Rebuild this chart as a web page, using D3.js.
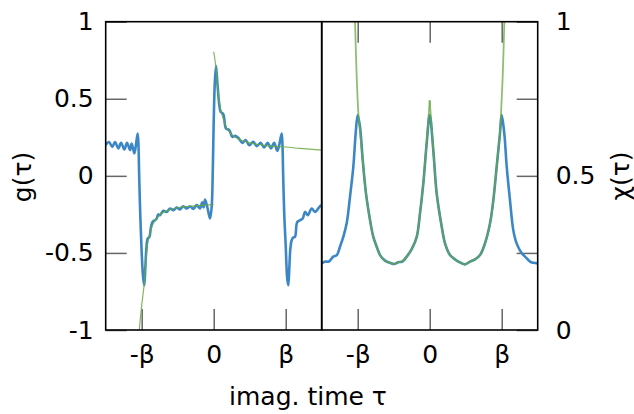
<!DOCTYPE html>
<html>
<head>
<meta charset="utf-8">
<script src="https://cdn.jsdelivr.net/npm/d3@7"></script>
<style>
  body { margin: 0; background: #fff; }
  text { font-family: "DejaVu Sans", sans-serif; }
</style>
</head>
<body>
<div id="chart"></div>
<script>
// Canvas and panel geometry
const width = 634;
const height = 414;
const plotTop = 21.7, plotBottom = 330;
const leftPanel = { x0: 105.7, x1: 321.7 };
const rightPanel = { x0: 321.7, x1: 537.7 };

// Tick values and labels (tau in units of beta)
const tauTicks = [-1, 0, 1];
const tauLabels = ["-β", "0", "β"];
const gTicks = [-1, -0.5, 0, 0.5, 1];
const chiTicks = [0, 0.25, 0.5, 0.75, 1];
const chiLabelTicks = [0, 0.5, 1];

// g(tau), measured (blue)
const gData = [
  [-1.5, 0.20], [-1.486, 0.21], [-1.454, 0.22], [-1.408, 0.188], [-1.371, 0.22], [-1.325, 0.178],
  [-1.287, 0.215], [-1.241, 0.171], [-1.204, 0.215], [-1.162, 0.167], [-1.139, 0.21], [-1.103, 0.145],
  [-1.08, 0.2], [-1.056, 0.275], [-1.045, 0.2], [-1.035, 0.0], [-1.02, -0.25], [-1.0, -0.5],
  [-0.98, -0.66], [-0.964, -0.71], [-0.95, -0.6], [-0.935, -0.47], [-0.917, -0.407], [-0.895, -0.398],
  [-0.87, -0.33], [-0.845, -0.295], [-0.815, -0.288], [-0.792, -0.277], [-0.77, -0.25], [-0.746, -0.255],
  [-0.7, -0.227], [-0.653, -0.234], [-0.607, -0.212], [-0.56, -0.223], [-0.514, -0.205], [-0.468, -0.218],
  [-0.422, -0.197], [-0.375, -0.212], [-0.329, -0.197], [-0.283, -0.214], [-0.236, -0.19], [-0.19, -0.212],
  [-0.16, -0.172], [-0.14, -0.205], [-0.12, -0.153], [-0.085, -0.21], [-0.051, -0.277], [-0.028, -0.2],
  [-0.012, 0.05], [0.0, 0.35], [0.015, 0.6], [0.032, 0.712], [0.045, 0.64], [0.06, 0.55],
  [0.078, 0.46], [0.097, 0.415], [0.133, 0.40], [0.171, 0.307], [0.217, 0.297], [0.259, 0.253],
  [0.3, 0.26], [0.342, 0.247], [0.398, 0.214], [0.444, 0.232], [0.495, 0.199], [0.55, 0.221],
  [0.597, 0.193], [0.653, 0.214], [0.699, 0.184], [0.75, 0.214], [0.796, 0.178], [0.838, 0.214],
  [0.884, 0.162], [0.91, 0.2], [0.944, 0.275], [0.955, 0.2], [0.965, 0.0], [0.98, -0.25],
  [1.0, -0.45], [1.02, -0.66], [1.036, -0.71], [1.05, -0.6], [1.065, -0.47], [1.083, -0.418],
  [1.105, -0.4], [1.129, -0.396], [1.16, -0.3], [1.199, -0.288], [1.236, -0.277], [1.268, -0.234],
  [1.306, -0.255], [1.361, -0.212], [1.407, -0.234], [1.476, -0.197], [1.5, -0.19]
];

// g(tau), fit (green), two branches
const gFitNeg = [
  [-1.045, -1.1], [-1.033, -1.0], [-1.0, -0.84], [-0.967, -0.71], [-0.94, -0.55], [-0.917, -0.44],
  [-0.885, -0.37], [-0.85, -0.32], [-0.815, -0.29], [-0.75, -0.255], [-0.7, -0.237], [-0.6, -0.218],
  [-0.5, -0.207], [-0.4, -0.2], [-0.3, -0.196], [-0.2, -0.192], [-0.1, -0.189], [0, -0.186]
];
const gFitPos = [
  [0, 0.805], [0.032, 0.70], [0.06, 0.55], [0.078, 0.48], [0.097, 0.43], [0.133, 0.37],
  [0.171, 0.32], [0.217, 0.285], [0.3, 0.25], [0.4, 0.228], [0.5, 0.214], [0.6, 0.205],
  [0.7, 0.198], [0.8, 0.193], [1.0, 0.187], [1.2, 0.178], [1.5, 0.167]
];

// chi(tau), measured (blue)
const chiData = [
  [-1.5, 0.216], [-1.45, 0.222], [-1.4, 0.222], [-1.34, 0.238], [-1.29, 0.243], [-1.246, 0.27],
  [-1.2, 0.302], [-1.153, 0.346], [-1.107, 0.432], [-1.061, 0.529], [-1.028, 0.638], [-1.0, 0.697],
  [-0.968, 0.659], [-0.93, 0.551], [-0.885, 0.443], [-0.829, 0.357], [-0.783, 0.302], [-0.736, 0.27],
  [-0.69, 0.243], [-0.621, 0.225], [-0.551, 0.218], [-0.496, 0.214], [-0.436, 0.22], [-0.38, 0.222],
  [-0.319, 0.238], [-0.25, 0.262], [-0.18, 0.302], [-0.135, 0.378], [-0.089, 0.475], [-0.042, 0.605],
  [0, 0.697], [0.05, 0.583], [0.097, 0.443], [0.167, 0.335], [0.213, 0.281], [0.282, 0.243],
  [0.351, 0.229], [0.397, 0.222], [0.49, 0.213], [0.56, 0.222], [0.63, 0.229], [0.699, 0.243],
  [0.768, 0.281], [0.838, 0.346], [0.884, 0.421], [0.93, 0.529], [0.976, 0.638], [1.0, 0.697],
  [1.036, 0.638], [1.07, 0.529], [1.115, 0.421], [1.161, 0.324], [1.207, 0.281], [1.278, 0.249],
  [1.324, 0.238], [1.393, 0.222], [1.44, 0.218], [1.5, 0.216]
];

// chi(tau), fit (green), two branches
const chiFitNeg = [
  [-1.045, 1.06], [-1.037, 1.0], [-1.015, 0.83], [-0.99, 0.70], [-0.968, 0.645], [-0.93, 0.55],
  [-0.885, 0.443], [-0.829, 0.357], [-0.783, 0.302], [-0.736, 0.27], [-0.69, 0.243], [-0.621, 0.225],
  [-0.551, 0.218], [-0.496, 0.214], [-0.436, 0.22], [-0.38, 0.224], [-0.319, 0.238], [-0.25, 0.262],
  [-0.18, 0.302], [-0.135, 0.378], [-0.089, 0.475], [-0.042, 0.61], [0, 0.745]
];
const chiFitPos = [
  [0, 0.745], [0.042, 0.61], [0.097, 0.443], [0.167, 0.335], [0.213, 0.281], [0.282, 0.243],
  [0.351, 0.229], [0.397, 0.222], [0.49, 0.213], [0.56, 0.222], [0.63, 0.229], [0.699, 0.243],
  [0.768, 0.281], [0.838, 0.346], [0.884, 0.421], [0.93, 0.529], [0.976, 0.638], [0.99, 0.70],
  [1.015, 0.83], [1.037, 1.0], [1.045, 1.06]
];

const blue = "#3b87c6";
const green = "#68a840";
const fontSize = 25;

// Scales
const xL = d3.scaleLinear().domain([-1.5, 1.5]).range([leftPanel.x0, leftPanel.x1]);
const xR = d3.scaleLinear().domain([-1.5, 1.5]).range([rightPanel.x0, rightPanel.x1]);
const yL = d3.scaleLinear().domain([-1, 1]).range([plotBottom, plotTop]);
const yR = d3.scaleLinear().domain([0, 1]).range([plotBottom, plotTop]);

const svg = d3.select("#chart")
  .append("svg")
  .attr("width", width)
  .attr("height", height);

// Clip paths
const defs = svg.append("defs");
defs.append("clipPath").attr("id", "clipL")
  .append("rect")
  .attr("x", leftPanel.x0).attr("y", plotTop)
  .attr("width", leftPanel.x1 - leftPanel.x0).attr("height", plotBottom - plotTop);
defs.append("clipPath").attr("id", "clipR")
  .append("rect")
  .attr("x", rightPanel.x0).attr("y", plotTop)
  .attr("width", rightPanel.x1 - rightPanel.x0).attr("height", plotBottom - plotTop);

const lineL = d3.line().x(d => xL(d[0])).y(d => yL(d[1])).curve(d3.curveCatmullRom.alpha(0.5));
const lineR = d3.line().x(d => xR(d[0])).y(d => yR(d[1])).curve(d3.curveCatmullRom.alpha(0.5));

function styleAxis(g) {
  g.select(".domain").remove();
  g.selectAll(".tick line").attr("stroke", "#666").attr("stroke-width", 1.5);
  g.selectAll(".tick text")
    .attr("fill", "#000")
    .style("font-size", fontSize + "px")
    .style("font-family", "DejaVu Sans");
}

// Left panel axes
svg.append("g")
  .attr("transform", `translate(${leftPanel.x0},0)`)
  .call(d3.axisLeft(yL).tickValues(gTicks).tickSize(-21).tickPadding(12)
    .tickFormat(d => String(d)))
  .call(styleAxis);

svg.append("g")
  .attr("transform", `translate(0,${plotBottom})`)
  .call(d3.axisBottom(xL).tickValues(tauTicks).tickSize(-21).tickPadding(15)
    .tickFormat((d, i) => tauLabels[i]))
  .call(styleAxis);

// Right panel axes
svg.append("g")
  .attr("transform", `translate(${rightPanel.x1},0)`)
  .call(d3.axisRight(yR).tickValues(chiTicks).tickSize(-21).tickPadding(18)
    .tickFormat(d => chiLabelTicks.includes(d) ? String(d) : ""))
  .call(styleAxis);

svg.append("g")
  .attr("transform", `translate(0,${plotBottom})`)
  .call(d3.axisBottom(xR).tickValues(tauTicks).tickSize(-21).tickPadding(15)
    .tickFormat((d, i) => tauLabels[i]))
  .call(styleAxis);

svg.append("g")
  .attr("transform", `translate(0,${plotTop})`)
  .call(d3.axisTop(xR).tickValues(tauTicks).tickSize(-21).tickFormat(""))
  .call(styleAxis);

// Curves: left panel
const gL = svg.append("g").attr("clip-path", "url(#clipL)");
gL.append("path").datum(gData)
  .attr("fill", "none").attr("stroke", blue).attr("stroke-width", 2.6)
  .attr("stroke-linejoin", "round").attr("d", lineL);
[gFitNeg, gFitPos].forEach(branch => {
  gL.append("path").datum(branch)
    .attr("fill", "none").attr("stroke", green).attr("stroke-width", 1.2)
    .attr("stroke-opacity", 0.85).attr("d", lineL);
});

// Curves: right panel
const gR = svg.append("g").attr("clip-path", "url(#clipR)");
gR.append("path").datum(chiData)
  .attr("fill", "none").attr("stroke", blue).attr("stroke-width", 2.6)
  .attr("stroke-linejoin", "round").attr("d", lineR);
[chiFitNeg, chiFitPos].forEach(branch => {
  gR.append("path").datum(branch)
    .attr("fill", "none").attr("stroke", green).attr("stroke-width", 1.8)
    .attr("stroke-opacity", 0.75).attr("d", lineR);
});

// Frames
[leftPanel, rightPanel].forEach(p => {
  svg.append("rect")
    .attr("x", p.x0).attr("y", plotTop)
    .attr("width", p.x1 - p.x0).attr("height", plotBottom - plotTop)
    .attr("fill", "none").attr("stroke", "#000").attr("stroke-width", 1.6);
});

// Axis titles
svg.append("text")
  .attr("transform", "translate(31,177) rotate(-90)")
  .attr("text-anchor", "middle")
  .style("font-size", fontSize + "px")
  .text("g(τ)");

svg.append("text")
  .attr("transform", "translate(629,176) rotate(-90)")
  .attr("text-anchor", "middle")
  .style("font-size", fontSize + "px")
  .text("χ(τ)");

svg.append("text")
  .attr("x", 308).attr("y", 405)
  .attr("text-anchor", "middle")
  .style("font-size", fontSize + "px")
  .text("imag. time τ");
</script>
</body>
</html>
